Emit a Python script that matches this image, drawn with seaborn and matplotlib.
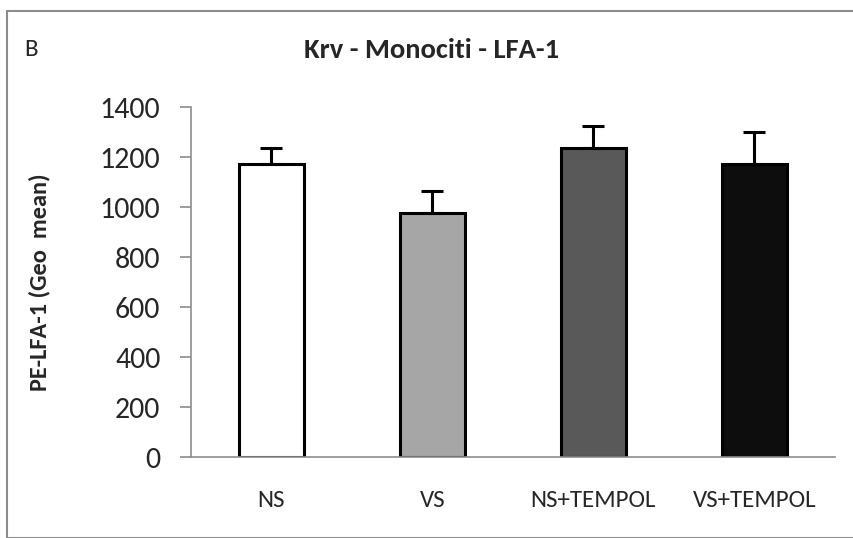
import matplotlib
matplotlib.use("Agg")
import matplotlib.pyplot as plt
import seaborn as sns
import pandas as pd
import numpy as np
from matplotlib.patches import Rectangle

# Data
groups = ["NS", "VS", "NS+TEMPOL", "VS+TEMPOL"]
geo_mean = [1172, 977, 1237, 1172]
sem = [64, 88, 86, 128]
bar_colors = ["#ffffff", "#a6a6a6", "#595959", "#0d0d0d"]
y_ticks = [0, 200, 400, 600, 800, 1000, 1200, 1400]

sns.set_theme(style="white")
plt.rcParams["font.family"] = ["Carlito", "Lato", "DejaVu Sans"]

W, H = 854, 538
fig = plt.figure(figsize=(W / 100, H / 100), dpi=100)

# outer frame of the panel
fig.patches.append(Rectangle((7 / W, 0), 1.0, 1 - 11 / H, transform=fig.transFigure,
                             fill=False, edgecolor="#8c8c8c", linewidth=1.5, clip_on=False))

ax = fig.add_axes([191 / W, 1 - 457 / H, (835 - 191) / W, (457 - 107) / H])

df = pd.DataFrame({"group": groups, "value": geo_mean})
sns.barplot(data=df, x="group", y="value", hue="group", palette=bar_colors,
            width=0.4, edgecolor="black", linewidth=2.2, legend=False, ax=ax,
            errorbar=None)

# upper error bars only
ax.errorbar(np.arange(len(groups)), geo_mean, yerr=[np.zeros(len(sem)), sem],
            fmt="none", ecolor="black", elinewidth=2.2, capsize=8, capthick=2.2, zorder=5)

ax.set_xlim(-0.5, len(groups) - 0.5)
ax.set_ylim(0, 1400)
ax.set_yticks(y_ticks)
ax.set_yticklabels([str(t) for t in y_ticks], fontsize=21.5)

ax.set_xticks(np.arange(len(groups)))
ax.set_xticklabels(groups, fontsize=18)
ax.set_xticks(np.arange(len(groups) + 1) - 0.5, minor=True)
ax.tick_params(axis="x", which="major", length=0, pad=24)
ax.tick_params(axis="x", which="minor", length=8, width=1.2, color="#8c8c8c", direction="out")
ax.tick_params(axis="y", which="major", length=8, width=1.2, color="#8c8c8c",
               direction="out", left=True, pad=14)

for side in ["top", "right"]:
    ax.spines[side].set_visible(False)
for side in ["left", "bottom"]:
    ax.spines[side].set_color("#8c8c8c")
    ax.spines[side].set_linewidth(1.2)

ax.set_xlabel("")
ax.set_ylabel("PE-LFA-1 (Geo  mean)", fontsize=17.5, fontweight="bold")
ax.yaxis.set_label_coords(-0.218, 0.5)

fig.text(432 / W, 1 - 50 / H, "Krv - Monociti - LFA-1", ha="center", va="center",
         fontsize=20.5, fontweight="bold")
fig.text(31 / W, 1 - 50 / H, "B", ha="center", va="center", fontsize=18)

fig.savefig("out.png", dpi=100)
